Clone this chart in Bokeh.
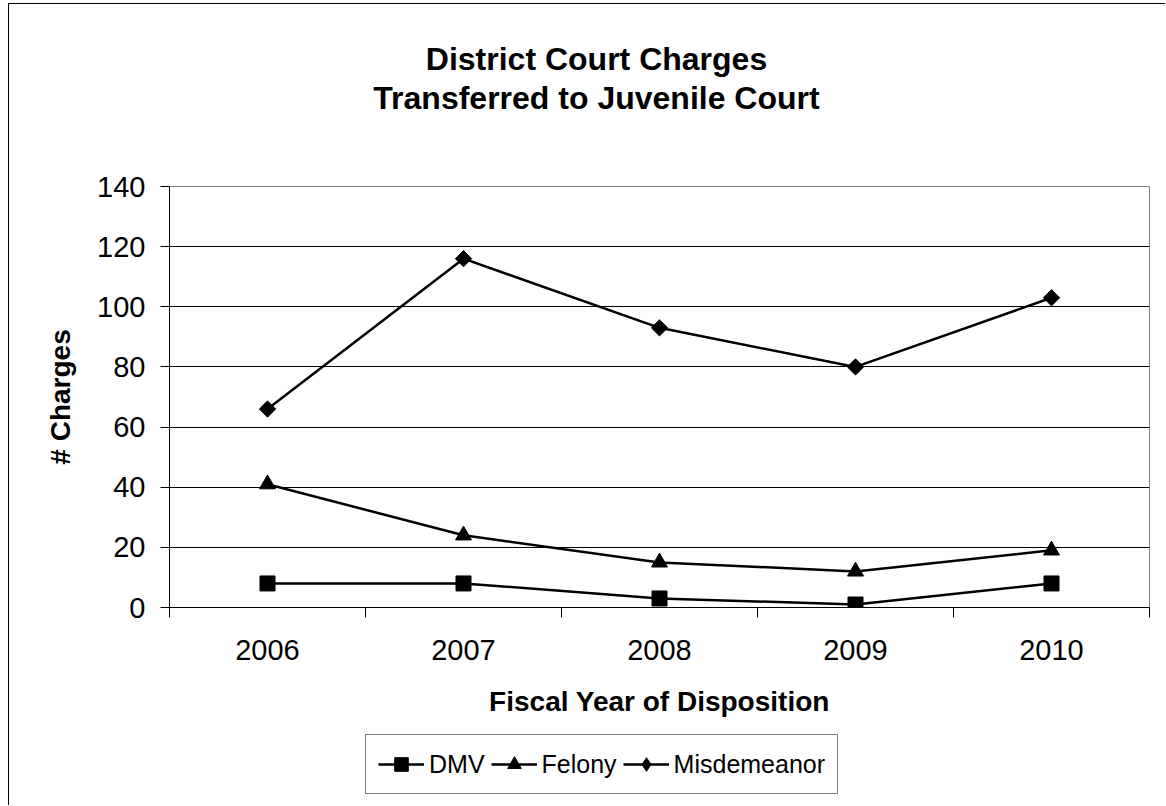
import math
from bokeh.plotting import figure
from bokeh.layouts import column
from bokeh.models import FixedTicker, Legend, LegendItem, Label, Range1d
from bokeh.embed import file_html
from bokeh.resources import INLINE

# ---- data ----
years = [2006, 2007, 2008, 2009, 2010]
dmv = [8, 8, 3, 1, 8]
felony = [41, 24, 15, 12, 19]
misdemeanor = [66, 116, 93, 80, 103]
y_ticks = [0, 20, 40, 60, 80, 100, 120, 140]
series_names = ["DMV", "Felony", "Misdemeanor"]
title_lines = ["District Court Charges", "Transferred to Juvenile Court"]
x_title = "Fiscal Year of Disposition"
y_title = "# Charges"

FONT = "Liberation Sans"
W, H = 1157, 802

# ---------------- main chart ----------------
p = figure(width=W, height=H, output_backend="svg", toolbar_location=None,
           title=None,
           x_range=Range1d(2005.5, 2010.5), y_range=Range1d(0, 140),
           min_border_left=160, min_border_right=17, min_border_top=182,
           min_border_bottom=199,
           styles={"border-left": "1px solid #000", "border-top": "1px solid #000",
                   "margin": "3px 0px 0px 8px"})
p.frame_align = False

p.background_fill_color = "white"
p.border_fill_color = "white"
p.outline_line_color = "#808080"
p.outline_line_width = 1

p.xgrid.visible = False
p.ygrid.grid_line_color = "black"
p.ygrid.grid_line_width = 1
p.ygrid.ticker = FixedTicker(ticks=y_ticks)

xa = p.xaxis[0]
xa.ticker = FixedTicker(ticks=years, minor_ticks=[years[0] - 0.5 + i for i in range(len(years) + 1)])
xa.major_tick_out = 0
xa.major_tick_in = 0
xa.minor_tick_out = 10
xa.minor_tick_in = 0
xa.minor_tick_line_color = "black"
xa.axis_line_color = "black"
xa.major_label_text_font = FONT
xa.major_label_text_font_size = "29px"
xa.major_label_text_color = "black"
xa.major_label_standoff = 22
xa.axis_label = x_title
xa.axis_label_text_font = FONT
xa.axis_label_text_font_size = "28px"
xa.axis_label_text_font_style = "bold"
xa.axis_label_text_color = "black"
xa.axis_label_standoff = 23

ya = p.yaxis[0]
ya.ticker = FixedTicker(ticks=y_ticks)
ya.major_tick_out = 9
ya.major_tick_in = 0
ya.minor_tick_out = 0
ya.minor_tick_in = 0
ya.major_tick_line_color = "black"
ya.axis_line_color = "black"
ya.major_label_text_font = FONT
ya.major_label_text_font_size = "29px"
ya.major_label_text_color = "black"
ya.major_label_standoff = 15
ya.axis_label = y_title
ya.axis_label_text_font = FONT
ya.axis_label_text_font_size = "28px"
ya.axis_label_text_font_style = "bold"
ya.axis_label_text_color = "black"
ya.axis_label_standoff = 18

series = [(dmv, dict(marker="square", size=15)),
          (felony, dict(marker="triangle", size=16)),
          (misdemeanor, dict(marker="square", angle=math.pi / 4, size=11.5))]
legend_markers = ["square", "triangle", "diamond"]

for vals, mk in series:
    p.line(years, vals, line_color="black", line_width=2.5)
    p.scatter(years, vals, fill_color="black", line_color="black", **mk)

# ---------------- overlay for title and legend (outside the plot frame) ----------------
q = figure(width=W + 1, height=H + 1, output_backend="svg", toolbar_location=None,
           title=None, x_axis_type=None, y_axis_type=None,
           x_range=Range1d(0, W + 1), y_range=Range1d(H + 1, 0),
           min_border=0, min_border_left=0, min_border_right=0,
           min_border_top=0, min_border_bottom=0,
           styles={"position": "absolute", "left": "8px", "top": "3px"})
q.frame_align = False
q.background_fill_alpha = 0
q.border_fill_alpha = 0
q.outline_line_color = None
q.grid.visible = False

items = []
for name, (vals, mk), lm in zip(series_names, series, legend_markers):
    lr = q.line(years, vals, line_color="black", line_width=2.5, visible=False)
    sr = q.scatter(years, vals, marker=lm, fill_color="black", line_color="black",
                   visible=False)
    items.append(LegendItem(label=name, renderers=[lr, sr]))

legend = Legend(items=items, orientation="horizontal", location=(357, 12))
legend.glyph_width = 46
legend.glyph_height = 34
legend.label_height = 34
legend.label_standoff = 5
legend.spacing = 6
legend.padding = 12
legend.margin = 0
legend.label_text_font = FONT
legend.label_text_font_size = "25px"
legend.label_text_color = "black"
legend.border_line_color = "black"
legend.border_line_width = 1
legend.background_fill_color = "white"
legend.background_fill_alpha = 1
q.add_layout(legend, "center")

for txt, yb in zip(title_lines, [55, 94]):
    q.add_layout(Label(x=588, y=yb, text=txt,
                       text_align="center", text_baseline="alphabetic",
                       text_font=FONT, text_font_size="32px", text_font_style="bold",
                       text_color="black"))

layout = column(p, q)
open("out.html", "w").write(file_html(layout, INLINE))
